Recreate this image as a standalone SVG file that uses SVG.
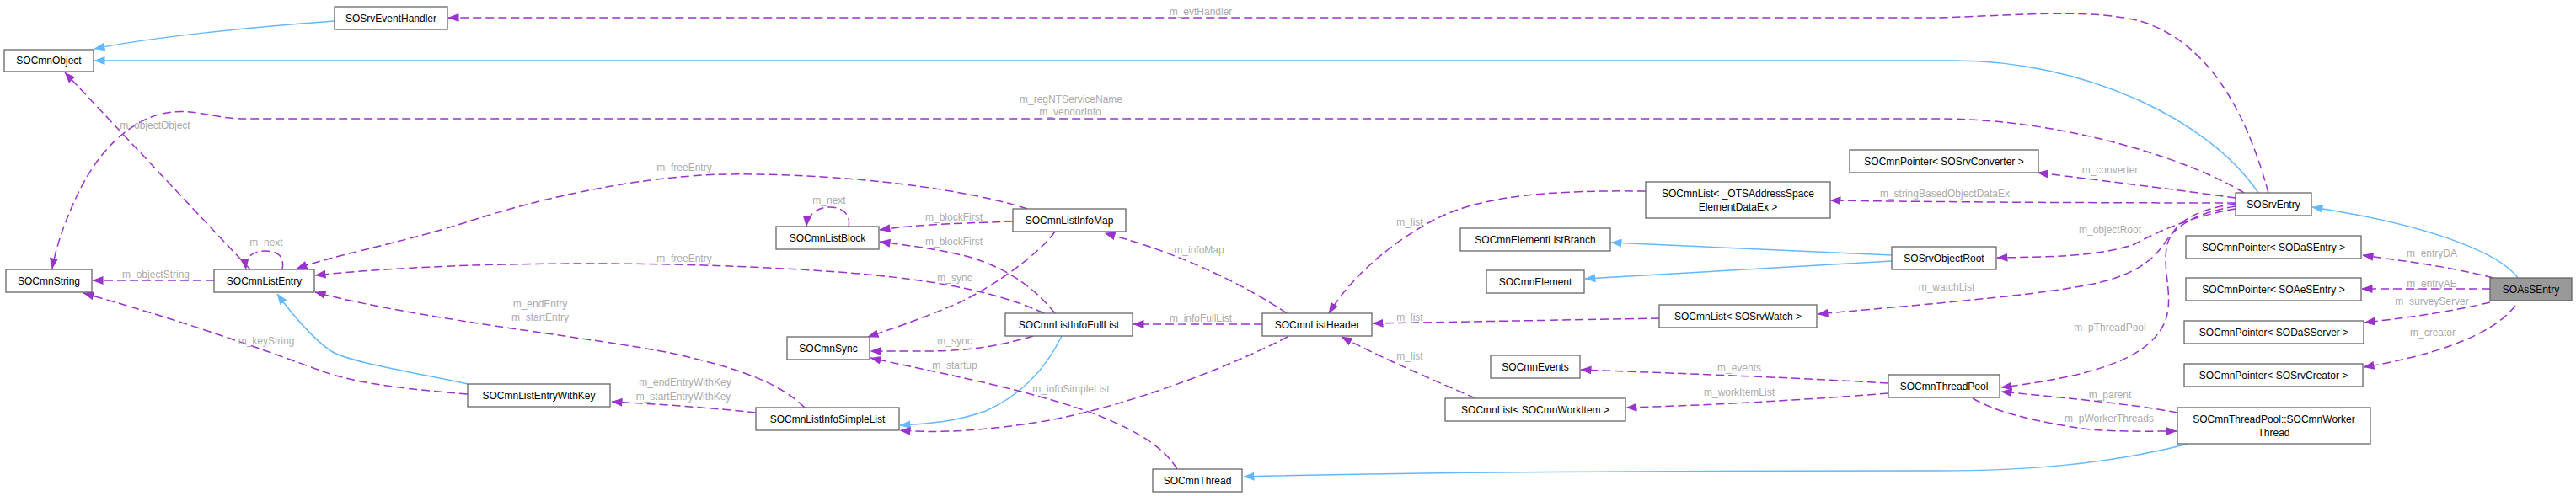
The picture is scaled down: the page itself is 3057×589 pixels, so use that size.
<svg xmlns="http://www.w3.org/2000/svg" width="3057" height="589" viewBox="0 0 3057 589">
<style>
.node rect{fill:#ffffff;stroke:#666666;stroke-width:1.3}
.node.focus rect{fill:#999999}
.node text{font-family:"Liberation Sans",Arial,sans-serif;font-size:12px;text-anchor:middle;fill:#000000}
.inh{fill:none;stroke:#63B8FF;stroke-width:1.5;marker-end:url(#ahBlue)}
.use{fill:none;stroke:#9A32CD;stroke-width:1.5;stroke-dasharray:10,5;marker-end:url(#ahPurple)}
.lbl{font-family:"Liberation Sans",Arial,sans-serif;font-size:12px;fill:#ABABAB;text-anchor:middle}
</style>
<defs>
<marker id="ahBlue" markerUnits="userSpaceOnUse" markerWidth="13" markerHeight="10" viewBox="0 0 13 10" refX="12.5" refY="5" orient="auto"><path d="M0,0 L13,5 L0,10 z" fill="#63B8FF"/></marker>
<marker id="ahPurple" markerUnits="userSpaceOnUse" markerWidth="13" markerHeight="10" viewBox="0 0 13 10" refX="12.5" refY="5" orient="auto"><path d="M0,0 L13,5 L0,10 z" fill="#9A32CD"/></marker>
</defs>
<rect width="3057" height="589" fill="#ffffff"/>
<g id="connectors">
<path class="inh" d="M397,25 C300,32 180,44 112,58"/>
<path class="inh" d="M2680,229 C2620,140 2470,72 2320,72 L112,72"/>
<g><path class="use" d="M2692,229 C2665,130 2620,50 2540,25 C2480,10 2400,18 2300,21 L532,21"/><text class="lbl" x="1425" y="18">m_evtHandler</text></g>
<g><path class="use" d="M2663,229 C2600,190 2450,141 2300,141 L291,141 C255,141 235,130 205,133 C160,137 120,175 95,225 C75,265 65,300 62,319"/><text class="lbl" x="1271" y="122">m_regNTServiceName</text><text class="lbl" x="1270" y="137">m_vendorInfo</text></g>
<g><path class="use" d="M297,320 L77,86"/><text class="lbl" x="184" y="153">m_objectObject</text></g>
<g><path class="use" d="M335,320 C338,305 330,298 315,298 C300,298 290,305 292,320"/><text class="lbl" x="316" y="292">m_next</text></g>
<g><path class="use" d="M254,333 L110,333"/><text class="lbl" x="185" y="330">m_objectString</text></g>
<path class="inh" d="M555,456 C480,440 415,430 393,417 C375,405 350,378 329,349"/>
<g><path class="use" d="M555,468 C480,462 420,455 380,440 C320,418 230,385 99,348"/><text class="lbl" x="316" y="409">m_keyString</text></g>
<g><path class="use" d="M955,484 C925,455 880,438 800,420 C700,400 500,380 374,347"/><text class="lbl" x="641" y="365">m_endEntry</text><text class="lbl" x="641" y="381">m_startEntry</text></g>
<g><path class="use" d="M897,490 C850,485 800,481 726,477"/><text class="lbl" x="813" y="458">m_endEntryWithKey</text><text class="lbl" x="811" y="475">m_startEntryWithKey</text></g>
<g><path class="use" d="M1219,248 C1150,225 1000,205 860,207 C760,209 640,235 550,265 C470,290 400,302 352,319"/><text class="lbl" x="812" y="203">m_freeEntry</text></g>
<g><path class="use" d="M1239,372 C1180,345 1100,330 980,322 C850,313 700,311 560,315 C480,318 420,322 374,327"/><text class="lbl" x="812" y="311">m_freeEntry</text></g>
<g><path class="use" d="M1007,269 C1010,255 1000,246 985,246 C970,246 958,255 957,269"/><text class="lbl" x="984" y="242">m_next</text></g>
<g><path class="use" d="M1202,263 C1150,265 1090,266 1044,273"/><text class="lbl" x="1132" y="262">m_blockFirst</text></g>
<g><path class="use" d="M1252,372 C1230,345 1200,320 1150,305 C1110,295 1080,292 1044,287"/><text class="lbl" x="1132" y="291">m_blockFirst</text></g>
<g><path class="use" d="M1252,275 C1235,300 1180,340 1137,360 C1090,380 1060,390 1030,400"/><text class="lbl" x="1133" y="334">m_sync</text></g>
<g><path class="use" d="M1226,399 C1190,410 1150,417 1100,417 C1070,417 1050,417 1033,417"/><text class="lbl" x="1133" y="409">m_sync</text></g>
<path class="inh" d="M1260,399 C1240,440 1210,470 1170,488 C1130,502 1100,503 1068,505"/>
<g><path class="use" d="M1397,557 C1380,530 1350,512 1300,492 C1220,462 1100,440 1033,425"/><text class="lbl" x="1133" y="438">m_startup</text></g>
<g><path class="use" d="M1528,400 C1470,430 1350,480 1240,500 C1160,513 1110,514 1068,511"/><text class="lbl" x="1271" y="466">m_infoSimpleList</text></g>
<g><path class="use" d="M1498,385 L1345,385"/><text class="lbl" x="1425" y="382">m_infoFullList</text></g>
<g><path class="use" d="M1527,372 C1480,340 1400,300 1311,277"/><text class="lbl" x="1423" y="301">m_infoMap</text></g>
<g><path class="use" d="M1953,227 C1850,226 1760,230 1700,262 C1640,295 1600,335 1577,372"/><text class="lbl" x="1673" y="268">m_list</text></g>
<g><path class="use" d="M1969,378 L1629,384"/><text class="lbl" x="1673" y="381">m_list</text></g>
<g><path class="use" d="M1751,473 C1710,455 1650,430 1592,400"/><text class="lbl" x="1673" y="427">m_list</text></g>
<path class="inh" d="M2245,303 L1912,288"/>
<path class="inh" d="M2245,310 L1881,331"/>
<g><path class="use" d="M2241,455 C2100,447 1980,443 1876,439"/><text class="lbl" x="2064" y="441">m_events</text></g>
<g><path class="use" d="M2241,467 C2100,478 2000,482 1930,484"/><text class="lbl" x="2064" y="470">m_workItemList</text></g>
<path class="inh" d="M2597,527 C2500,552 2400,559 2300,559 C2000,559 1700,560 1476,566"/>
<g><path class="use" d="M2584,490 C2520,478 2440,472 2375,465"/><text class="lbl" x="2504" y="473">m_parent</text></g>
<g><path class="use" d="M2341,473 C2370,490 2420,502 2480,510 C2520,513 2550,512 2583,512"/><text class="lbl" x="2503" y="501">m_pWorkerThreads</text></g>
<g><path class="use" d="M2653,242 C2610,248 2580,262 2572,290 C2565,320 2580,350 2570,380 C2555,420 2500,445 2375,460"/><text class="lbl" x="2504" y="393">m_pThreadPool</text></g>
<g><path class="use" d="M2653,245 C2610,252 2585,265 2570,287 C2555,310 2530,330 2469,340 C2400,352 2300,360 2157,373"/><text class="lbl" x="2310" y="345">m_watchList</text></g>
<g><path class="use" d="M2653,248 C2610,255 2570,270 2533,290 C2490,305 2430,305 2370,306"/><text class="lbl" x="2504" y="277">m_objectRoot</text></g>
<g><path class="use" d="M2653,235 C2580,225 2500,215 2418,205"/><text class="lbl" x="2504" y="206">m_converter</text></g>
<g><path class="use" d="M2653,241 C2500,241 2300,240 2172,238"/><text class="lbl" x="2308" y="234">m_stringBasedObjectDataEx</text></g>
<path class="inh" d="M2988,330 C2970,305 2900,270 2744,246"/>
<g><path class="use" d="M2959,330 C2900,315 2850,310 2804,303"/><text class="lbl" x="2886" y="305">m_entryDA</text></g>
<g><path class="use" d="M2955,343 L2803,343"/><text class="lbl" x="2886" y="341">m_entryAE</text></g>
<g><path class="use" d="M2955,359 C2900,372 2850,378 2806,383"/><text class="lbl" x="2886" y="362">m_surveyServer</text></g>
<g><path class="use" d="M2985,363 C2960,395 2900,420 2805,436"/><text class="lbl" x="2887" y="399">m_creator</text></g>
</g>
<g id="SOAsSEntry" class="node focus"><rect x="2955" y="330" width="97" height="27"/><text x="3003.5" y="347.5">SOAsSEntry</text></g>
<g id="SOSrvEntry" class="node"><rect x="2653" y="229" width="90" height="27"/><text x="2698" y="246.5">SOSrvEntry</text></g>
<g id="SOCmnObject" class="node"><rect x="5" y="59" width="106" height="26"/><text x="58" y="76">SOCmnObject</text></g>
<g id="SOSrvEventHandler" class="node"><rect x="397" y="8" width="134" height="27"/><text x="464" y="25.5">SOSrvEventHandler</text></g>
<g id="SOCmnString" class="node"><rect x="7" y="320" width="102" height="27"/><text x="58" y="337.5">SOCmnString</text></g>
<g id="SOCmnListEntry" class="node"><rect x="254" y="320" width="119" height="27"/><text x="313.5" y="337.5">SOCmnListEntry</text></g>
<g id="SOCmnListEntryWithKey" class="node"><rect x="555" y="456" width="169" height="27"/><text x="639.5" y="473.5">SOCmnListEntryWithKey</text></g>
<g id="SOCmnListBlock" class="node"><rect x="921" y="269" width="122" height="27"/><text x="982" y="286.5">SOCmnListBlock</text></g>
<g id="SOCmnListInfoMap" class="node"><rect x="1202" y="248" width="134" height="27"/><text x="1269" y="265.5">SOCmnListInfoMap</text></g>
<g id="SOCmnSync" class="node"><rect x="934" y="400" width="98" height="27"/><text x="983" y="417.5">SOCmnSync</text></g>
<g id="SOCmnListInfoFullList" class="node"><rect x="1193" y="372" width="151" height="27"/><text x="1268.5" y="389.5">SOCmnListInfoFullList</text></g>
<g id="SOCmnListInfoSimpleList" class="node"><rect x="897" y="484" width="170" height="27"/><text x="982" y="501.5">SOCmnListInfoSimpleList</text></g>
<g id="SOCmnThread" class="node"><rect x="1368" y="557" width="106" height="27"/><text x="1421" y="574.5">SOCmnThread</text></g>
<g id="SOCmnListHeader" class="node"><rect x="1498" y="372" width="130" height="27"/><text x="1563" y="389.5">SOCmnListHeader</text></g>
<g id="SOCmnList_OTSAddressSpaceElementDataEx" class="node"><rect x="1953" y="216" width="219" height="43"/><text x="2062.5" y="234">SOCmnList&lt; _OTSAddressSpace</text><text x="2062.5" y="250">ElementDataEx &gt;</text></g>
<g id="SOCmnPointer_SOSrvConverter" class="node"><rect x="2195" y="178" width="224" height="27"/><text x="2307" y="195.5">SOCmnPointer&lt; SOSrvConverter &gt;</text></g>
<g id="SOCmnElementListBranch" class="node"><rect x="1733" y="271" width="178" height="27"/><text x="1822" y="288.5">SOCmnElementListBranch</text></g>
<g id="SOSrvObjectRoot" class="node"><rect x="2245" y="293" width="124" height="27"/><text x="2307" y="310.5">SOSrvObjectRoot</text></g>
<g id="SOCmnElement" class="node"><rect x="1764" y="321" width="116" height="27"/><text x="1822" y="338.5">SOCmnElement</text></g>
<g id="SOCmnList_SOSrvWatch" class="node"><rect x="1969" y="362" width="187" height="27"/><text x="2062.5" y="379.5">SOCmnList&lt; SOSrvWatch &gt;</text></g>
<g id="SOCmnEvents" class="node"><rect x="1769" y="422" width="106" height="27"/><text x="1822" y="439.5">SOCmnEvents</text></g>
<g id="SOCmnList_SOCmnWorkItem" class="node"><rect x="1715" y="473" width="214" height="27"/><text x="1822" y="490.5">SOCmnList&lt; SOCmnWorkItem &gt;</text></g>
<g id="SOCmnThreadPool" class="node"><rect x="2241" y="445" width="132" height="27"/><text x="2307" y="462.5">SOCmnThreadPool</text></g>
<g id="SOCmnPointer_SODaSEntry" class="node"><rect x="2594" y="280" width="208" height="27"/><text x="2698" y="297.5">SOCmnPointer&lt; SODaSEntry &gt;</text></g>
<g id="SOCmnPointer_SOAeSEntry" class="node"><rect x="2594" y="330" width="208" height="27"/><text x="2698" y="347.5">SOCmnPointer&lt; SOAeSEntry &gt;</text></g>
<g id="SOCmnPointer_SODaSServer" class="node"><rect x="2592" y="381" width="213" height="27"/><text x="2698.5" y="398.5">SOCmnPointer&lt; SODaSServer &gt;</text></g>
<g id="SOCmnPointer_SOSrvCreator" class="node"><rect x="2592" y="432" width="212" height="27"/><text x="2698" y="449.5">SOCmnPointer&lt; SOSrvCreator &gt;</text></g>
<g id="SOCmnWorkerThread" class="node"><rect x="2584" y="484" width="229" height="43"/><text x="2698.5" y="502">SOCmnThreadPool::SOCmnWorker</text><text x="2698.5" y="518">Thread</text></g>
</svg>
